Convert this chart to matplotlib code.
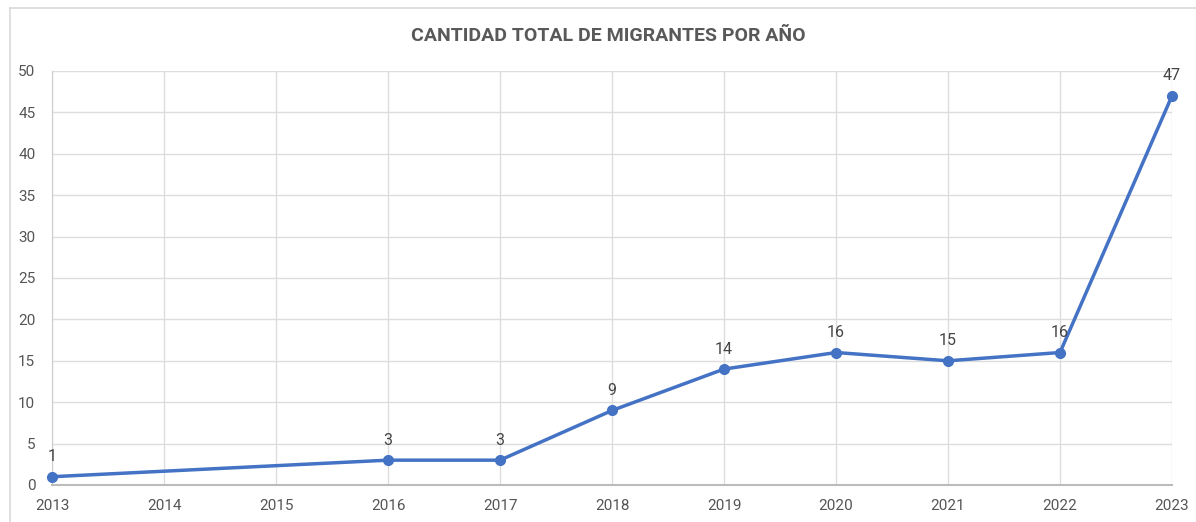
import matplotlib.pyplot as plt
from matplotlib.lines import Line2D

years = [2013, 2014, 2015, 2016, 2017, 2018, 2019, 2020, 2021, 2022, 2023]
point_years = [2013, 2016, 2017, 2018, 2019, 2020, 2021, 2022, 2023]
migrants = [1, 3, 3, 9, 14, 16, 15, 16, 47]

plt.rcParams['font.family'] = ['Roboto', 'DejaVu Sans']

fig = plt.figure(figsize=(11.96, 5.22), dpi=100)
ax = fig.add_axes([52 / 1196, 1 - 485 / 522, (1172 - 52) / 1196, (485 - 71) / 522])

# outer frame (top and left edges)
fig.add_artist(Line2D([10 / 1196, 1], [1 - 8 / 522, 1 - 8 / 522], color='#d9d9d9', lw=1.2, transform=fig.transFigure))
fig.add_artist(Line2D([10 / 1196, 10 / 1196], [0, 1 - 8 / 522], color='#d9d9d9', lw=1.2, transform=fig.transFigure))

ax.plot(point_years, migrants, color='#4472c4', lw=2.5, marker='o', markersize=7, zorder=3, clip_on=False)
for x, y in zip(point_years, migrants):
    ax.annotate(str(y), (x, y), xytext=(0, 9), textcoords='offset points',
                ha='center', va='bottom', fontsize=11.5, color='#444444')

ax.set_xlim(2013, 2023)
ax.set_ylim(0, 50)
ax.set_xticks(years)
ax.set_yticks(range(0, 51, 5))
ax.grid(True, color='#dddddd', lw=1)
ax.set_axisbelow(True)
for s in ['top', 'right']:
    ax.spines[s].set_visible(False)
ax.spines['left'].set_color('#cccccc')
ax.spines['bottom'].set_color('#bbbbbb')
ax.spines['bottom'].set_linewidth(1.5)
ax.tick_params(length=0, labelsize=11, colors='#555555')
ax.tick_params(axis='x', pad=10)
ax.tick_params(axis='y', pad=12)

fig.text(608 / 1196, 1 - 36 / 522, 'CANTIDAD TOTAL DE MIGRANTES POR AÑO', ha='center', va='center',
         fontsize=14, fontweight='bold', color='#595959')

fig.savefig('out.png', dpi=100)
